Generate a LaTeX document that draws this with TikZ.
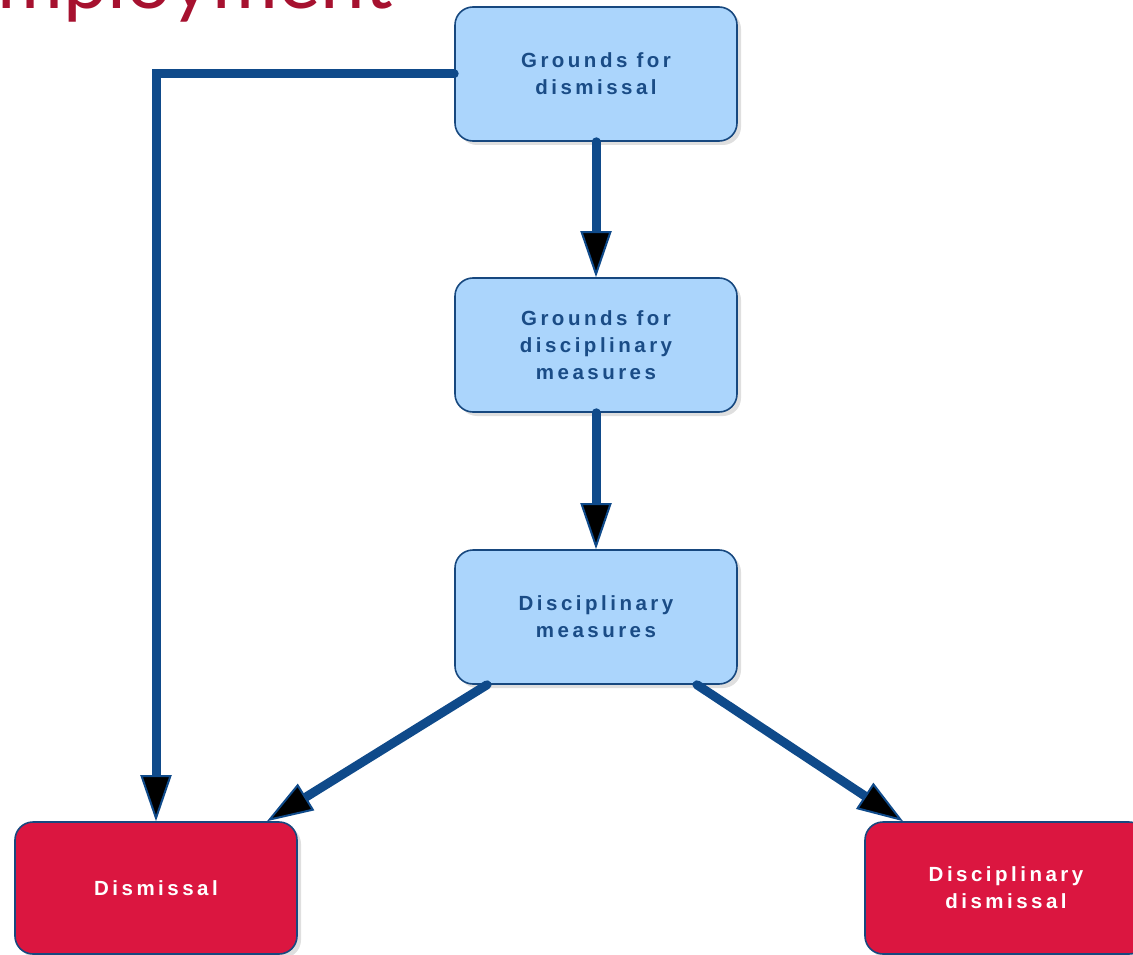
\documentclass[tikz,border=0pt]{standalone}
\usepackage{fontspec}
\setmainfont{Liberation Sans}
\newfontfamily\boxfont[LetterSpace=17]{Liberation Sans}
\newfontfamily\titlefont{Lato}
\usetikzlibrary{arrows.meta,shadows}
\definecolor{boxblue}{HTML}{ABD5FC}
\definecolor{edgeblue}{HTML}{17487F}
\definecolor{linkblue}{HTML}{0F4A8A}
\definecolor{boxred}{HTML}{DB1640}
\definecolor{titlered}{HTML}{A6112F}
\definecolor{textblue}{HTML}{1A4C86}
\tikzset{
  box/.style={draw=edgeblue, line width=1.6pt, rounded corners=18pt,
    minimum width=282pt, minimum height=134pt, inner sep=0pt, align=center,
    font=\boxfont\bfseries\fontsize{20.5}{27}\selectfont,
    drop shadow={shadow xshift=4pt, shadow yshift=-4pt, opacity=0.25, fill=gray}},
  bluebox/.style={box, fill=boxblue, text=textblue},
  redbox/.style={box, fill=boxred, text=white},
  conn/.style={draw=linkblue, line width=9pt, line cap=round,
    -{Triangle[length=46pt,width=31pt,fill=black,line width=2pt]}}
}
\begin{document}
\begin{tikzpicture}[x=1pt,y=-1pt]
\useasboundingbox (0,0) rectangle (1133,955);
\node[anchor=base east, text=titlered, font=\titlefont\fontsize{80}{80}\selectfont, inner sep=0pt] (title) at (393,9) {Employment};
\node[bluebox] (a) at (596,74) {Grounds for\\dismissal};
\node[bluebox] (b) at (596,345) {Grounds for\\disciplinary\\measures};
\node[bluebox] (c) at (596,617) {Disciplinary\\measures};
\node[redbox, minimum height=132pt] (d) at (156,888) {Dismissal};
\node[redbox, minimum height=132pt] (e) at (1006,888) {Disciplinary\\dismissal};
\draw[conn] (a.south) -- (b.north);
\draw[conn] (b.south) -- (c.north);
\draw[conn] (a.west) -| (d.north);
\draw[conn] ([xshift=-109pt]c.south) -- ([xshift=111pt]d.north);
\draw[conn] ([xshift=101pt]c.south) -- ([xshift=-103pt]e.north);
\end{tikzpicture}
\end{document}
